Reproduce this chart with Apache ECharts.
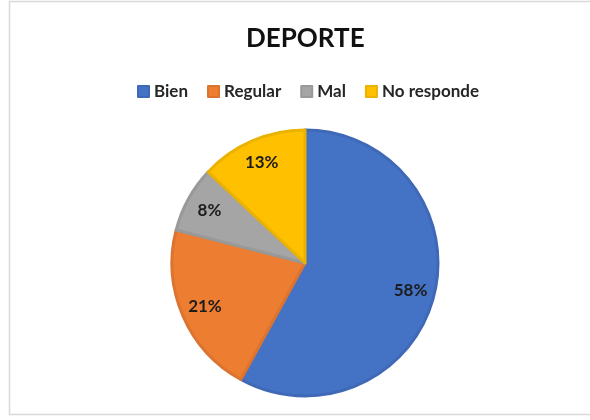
<!DOCTYPE html>
<html>
<head>
<meta charset="utf-8">
<script src="https://cdn.jsdelivr.net/npm/echarts@6/dist/echarts.min.js"></script>
<style>html,body{margin:0;padding:0;background:#fff;}#c{width:590px;height:420px;}</style>
</head>
<body>
<div id="c"></div>
<script>
const title = 'DEPORTE';
const categories = ['Bien', 'Regular', 'Mal', 'No responde'];
const values = [58, 21, 8, 13];
const colors = ['#4472C4', '#ED7D31', '#A5A5A5', '#FFC000'];
const borderColors = ['#3F69B6', '#DB7430', '#999999', '#EBB200'];

const FONT = 'Lato, "Open Sans", sans-serif';
const chart = echarts.init(document.getElementById('c'), null, {renderer: 'canvas'});
const center = [305, 263];
const mainData = categories.map((n, i) => ({
  name: n, value: values[i],
  itemStyle: {color: colors[i], borderColor: borderColors[i], borderWidth: 3}
}));
const labelData = categories.map((n, i) => ({name: n, value: values[i]}));
chart.setOption({
  animation: false,
  backgroundColor: '#ffffff',
  graphic: [{
    type: 'rect', silent: true,
    shape: {x: 9.5, y: 1.5, width: 600, height: 413},
    style: {fill: 'none', stroke: '#d9d9d9', lineWidth: 1.5}
  }],
  title: {
    text: title, left: 241, top: 21,
    textStyle: {fontFamily: FONT, fontWeight: 'bold', fontSize: 26, color: '#111'}
  },
  legend: {
    data: categories, top: 78, left: 132,
    icon: 'rect', itemWidth: 11, itemHeight: 11, itemGap: 19,
    textStyle: {fontFamily: FONT, fontWeight: 'bold', fontSize: 17, color: '#262626'}
  },
  series: [{
    type: 'pie', name: 'main', center: center, radius: [0, 133],
    startAngle: 90, clockwise: true, silent: true,
    label: {show: false}, labelLine: {show: false},
    data: mainData
  }, {
    type: 'pie', name: 'labels', center: center, radius: [0, 212],
    startAngle: 90, clockwise: true, silent: true, legendHoverLink: false,
    itemStyle: {color: 'rgba(0,0,0,0)', borderWidth: 0},
    label: {
      show: true, position: 'inside', formatter: p => p.value + '%',
      fontFamily: FONT, fontWeight: 'bold', fontSize: 17, color: '#1c1c1c'
    },
    labelLine: {show: false},
    data: labelData
  }]
});
</script>
</body>
</html>
